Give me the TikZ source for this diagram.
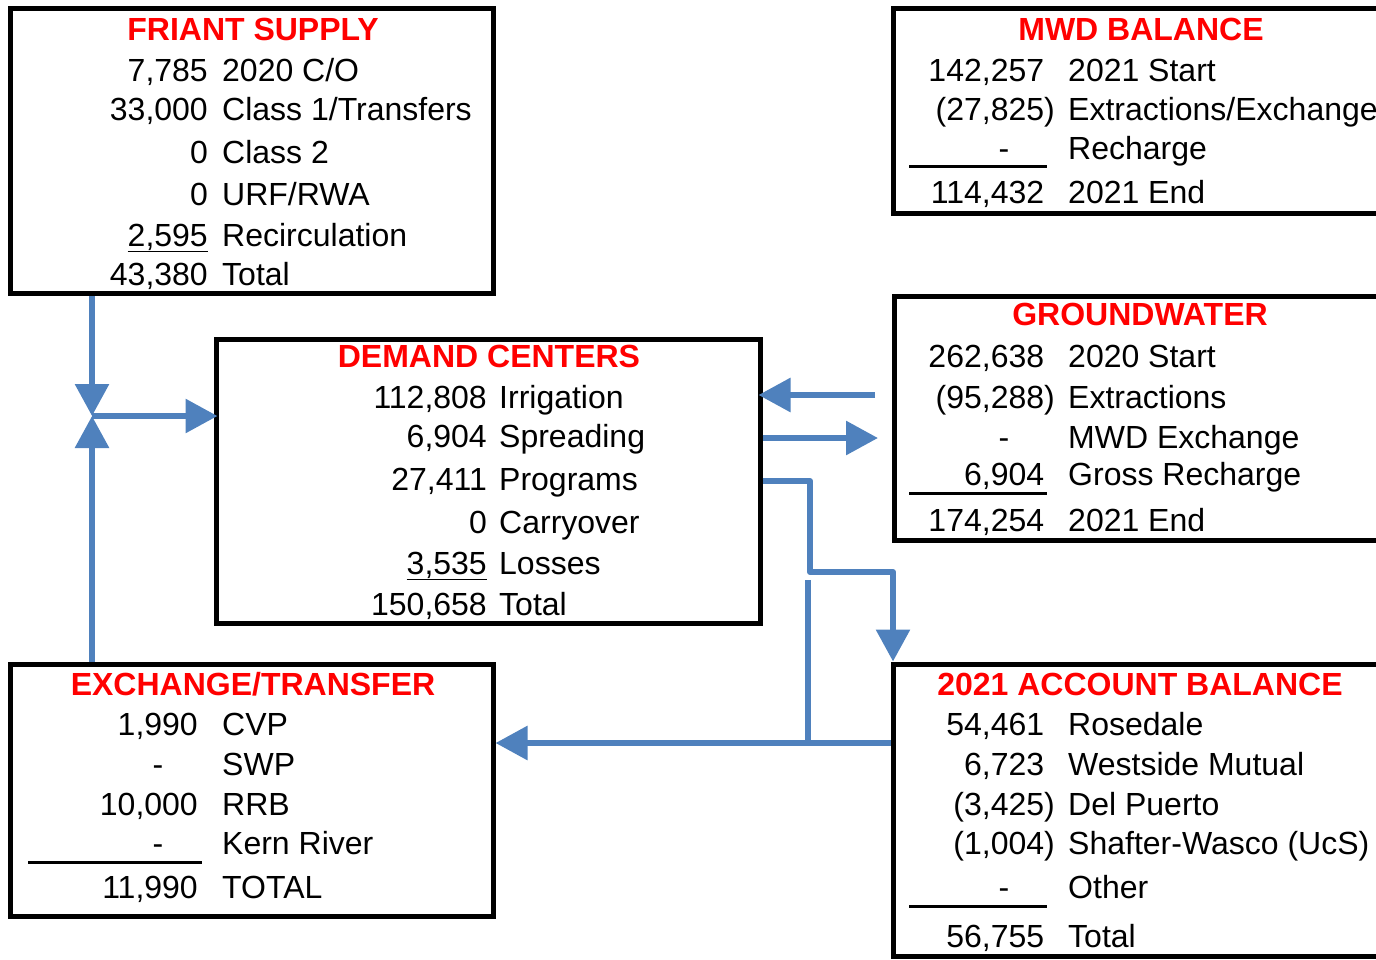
\documentclass[tikz,border=0pt]{standalone}
\usepackage{fontspec}
\setmainfont{Liberation Sans}
\usetikzlibrary{positioning,arrows.meta,calc}
\definecolor{flowblue}{RGB}{79,129,189}
\definecolor{titlered}{RGB}{255,0,0}

\begin{document}
\begin{tikzpicture}[
    x=1pt, y=-1pt,
    every node/.style={font=\fontsize{32}{36}\selectfont, inner sep=0pt},
    box/.style={draw, line width=5pt},
    title/.style={anchor=base, font=\fontsize{32}{36}\selectfont\bfseries, text=titlered},
    num/.style={anchor=base east},
    lbl/.style={anchor=base west},
    nil/.style={anchor=base},
    rule/.style={line width=3pt},
    flow/.style={draw=flowblue, line width=6pt, line join=round, -{Triangle[length=32pt,width=33pt]}},
    link/.style={draw=flowblue, line width=6pt}
]
\useasboundingbox (0,0) rectangle (1376,959);

% Boxes
\node[box, minimum width=483pt, minimum height=285pt] (friant) at (252,151) {};
\node[box, minimum width=544pt, minimum height=284pt] (demand) at (488,481) {};
\node[box, minimum width=502pt, minimum height=204.5pt] (mwd) at (1144,110.75) {};
\node[box, minimum width=501pt, minimum height=244pt] (gw) at (1144.5,418) {};
\node[box, minimum width=502pt, minimum height=292pt] (account) at (1144,810) {};
\node[box, minimum width=482.5pt, minimum height=251.5pt] (exch) at (251.75,790.25) {};

% Friant supply
\node[title] (fT) at (253,40) {FRIANT SUPPLY};
\node[num] (f1n) at (208,81) {7,785};  \node[lbl] (f1l) at (222,81) {2020 C/O};
\node[num] (f2n) at (208,120) {33,000}; \node[lbl] (f2l) at (222,120) {Class 1/Transfers};
\node[num] (f3n) at (208,163) {0};      \node[lbl] (f3l) at (222,163) {Class 2};
\node[num] (f4n) at (208,205) {0};      \node[lbl] (f4l) at (222,205) {URF/RWA};
\node[num] (f5n) at (208,246) {\underline{2,595}}; \node[lbl] (f5l) at (222,246) {Recirculation};
\node[num] (f6n) at (208,285) {43,380}; \node[lbl] (f6l) at (222,285) {Total};

% Demand centers
\node[title] (dT) at (489,367) {DEMAND CENTERS};
\node[num] (d1n) at (487,408) {112,808}; \node[lbl] (d1l) at (499,408) {Irrigation};
\node[num] (d2n) at (487,447) {6,904};   \node[lbl] (d2l) at (499,447) {Spreading};
\node[num] (d3n) at (487,490) {27,411};  \node[lbl] (d3l) at (499,490) {Programs};
\node[num] (d4n) at (487,533) {0};       \node[lbl] (d4l) at (499,533) {Carryover};
\node[num] (d5n) at (487,574) {\underline{3,535}}; \node[lbl] (d5l) at (499,574) {Losses};
\node[num] (d6n) at (487,615) {150,658}; \node[lbl] (d6l) at (499,615) {Total};

% MWD balance
\node[title] (mT) at (1141,40) {MWD BALANCE};
\node[num] (m1n) at (1055,81) {142,257\phantom{)}}; \node[lbl] (m1l) at (1068,81) {2021 Start};
\node[num] (m2n) at (1055,120) {(27,825)};         \node[lbl] (m2l) at (1068,120) {Extractions/Exchange};
\node[nil] (m3n) at (1004,159) {-};                \node[lbl] (m3l) at (1068,159) {Recharge};
\node[num] (m4n) at (1055,203) {114,432\phantom{)}}; \node[lbl] (m4l) at (1068,203) {2021 End};
\draw[rule] (909,166) -- (1047,166);

% Groundwater
\node[title] (gT) at (1140,325) {GROUNDWATER};
\node[num] (g1n) at (1055,367) {262,638\phantom{)}}; \node[lbl] (g1l) at (1068,367) {2020 Start};
\node[num] (g2n) at (1055,408) {(95,288)};         \node[lbl] (g2l) at (1068,408) {Extractions};
\node[nil] (g3n) at (1004,448) {-};                \node[lbl] (g3l) at (1068,448) {MWD Exchange};
\node[num] (g4n) at (1055,485) {6,904\phantom{)}}; \node[lbl] (g4l) at (1068,485) {Gross Recharge};
\node[num] (g5n) at (1055,531) {174,254\phantom{)}}; \node[lbl] (g5l) at (1068,531) {2021 End};
\draw[rule] (909,493) -- (1047,493);

% Exchange / transfer
\node[title] (xT) at (253,695) {EXCHANGE/TRANSFER};
\node[num] (x1n) at (198,735) {1,990};  \node[lbl] (x1l) at (222,735) {CVP};
\node[nil] (x2n) at (158,775) {-};      \node[lbl] (x2l) at (222,775) {SWP};
\node[num] (x3n) at (198,815) {10,000}; \node[lbl] (x3l) at (222,815) {RRB};
\node[nil] (x4n) at (158,854) {-};      \node[lbl] (x4l) at (222,854) {Kern River};
\node[num] (x5n) at (198,898) {11,990}; \node[lbl] (x5l) at (222,898) {TOTAL};
\draw[rule] (28,862) -- (202,862);

% 2021 account balance
\node[title] (aT) at (1140,695) {2021 ACCOUNT BALANCE};
\node[num] (a1n) at (1055,735) {54,461\phantom{)}}; \node[lbl] (a1l) at (1068,735) {Rosedale};
\node[num] (a2n) at (1055,775) {6,723\phantom{)}};  \node[lbl] (a2l) at (1068,775) {Westside Mutual};
\node[num] (a3n) at (1055,815) {(3,425)};          \node[lbl] (a3l) at (1068,815) {Del Puerto};
\node[num] (a4n) at (1055,854) {(1,004)};          \node[lbl] (a4l) at (1068,854) {Shafter-Wasco (UcS)};
\node[nil] (a5n) at (1004,898) {-};                \node[lbl] (a5l) at (1068,898) {Other};
\node[num] (a6n) at (1055,947) {56,755\phantom{)}}; \node[lbl] (a6l) at (1068,947) {Total};
\draw[rule] (909,906) -- (1047,906);

% Flows
\coordinate (meet) at (92,416);
\coordinate (gwin) at (875,395);
\coordinate (gwout) at (878,438);
\coordinate (split) at (808,580);

\draw[flow] (meet |- friant.south) -- (meet);
\draw[flow] (exch.north -| meet) -- (meet);
\draw[flow] (meet) -- ([xshift=4pt]meet -| demand.west);
\draw[flow] (gwin) -- ([xshift=-4pt]gwin -| demand.east);
\draw[flow] (gwout -| demand.east) -- (gwout);
\draw[flow] (demand.east |- 0,481) -| (810,572) -| (account.north -| 893,0);
\draw[flow] (account.west |- 0,743) -- (exch.east |- 0,743);
\draw[link] (split) -- (split |- 0,743);

\end{tikzpicture}
\end{document}
